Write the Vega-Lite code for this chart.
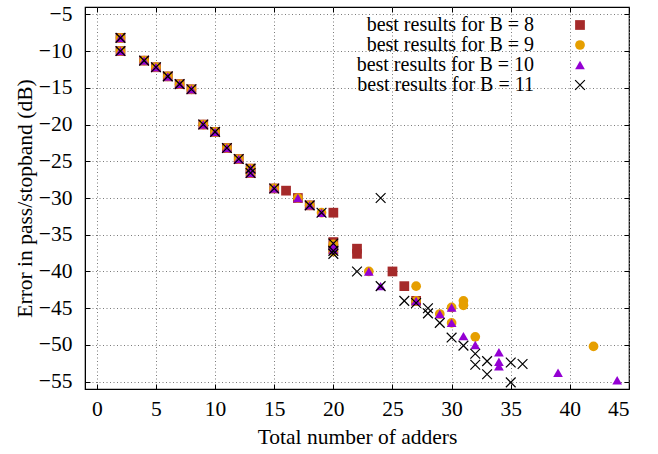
{
  "$schema": "https://vega.github.io/schema/vega-lite/v6.json",
  "width": 544,
  "height": 382,
  "autosize": "none",
  "padding": {"left": 85, "top": 7, "right": 29, "bottom": 65},
  "background": "white",
  "config": {
    "view": {"stroke": "black", "strokeWidth": 1.2},
    "font": "Liberation Serif",
    "axis": {
      "labelFont": "Liberation Serif",
      "titleFont": "Liberation Serif",
      "labelFontSize": 21.5,
      "titleFontSize": 21.5,
      "titleFontWeight": "normal",
      "labelColor": "black",
      "titleColor": "black",
      "domainColor": "black",
      "tickColor": "black",
      "gridColor": "#7a7a7a",
      "gridDash": [1, 2.5],
      "gridWidth": 1
    },
    "legend": {
      "labelFont": "Liberation Serif",
      "labelFontSize": 20,
      "labelColor": "black",
      "labelLimit": 400
    }
  },
  "data": {
    "values": [
      {"x": 2, "y": -8.2, "s": "best results for B = 8"},
      {"x": 2, "y": -10, "s": "best results for B = 8"},
      {"x": 4, "y": -11.3, "s": "best results for B = 8"},
      {"x": 5, "y": -12.2, "s": "best results for B = 8"},
      {"x": 6, "y": -13.45, "s": "best results for B = 8"},
      {"x": 7, "y": -14.5, "s": "best results for B = 8"},
      {"x": 8, "y": -15.2, "s": "best results for B = 8"},
      {"x": 9, "y": -20, "s": "best results for B = 8"},
      {"x": 10, "y": -21, "s": "best results for B = 8"},
      {"x": 11, "y": -23.2, "s": "best results for B = 8"},
      {"x": 12, "y": -24.7, "s": "best results for B = 8"},
      {"x": 13, "y": -26, "s": "best results for B = 8"},
      {"x": 13, "y": -26.6, "s": "best results for B = 8"},
      {"x": 15, "y": -28.7, "s": "best results for B = 8"},
      {"x": 16, "y": -29, "s": "best results for B = 8"},
      {"x": 17, "y": -30, "s": "best results for B = 8"},
      {"x": 18, "y": -31, "s": "best results for B = 8"},
      {"x": 20, "y": -32, "s": "best results for B = 8"},
      {"x": 20, "y": -36, "s": "best results for B = 8"},
      {"x": 20, "y": -37, "s": "best results for B = 8"},
      {"x": 22, "y": -36.9, "s": "best results for B = 8"},
      {"x": 22, "y": -37.6, "s": "best results for B = 8"},
      {"x": 25, "y": -40, "s": "best results for B = 8"},
      {"x": 26, "y": -42, "s": "best results for B = 8"},
      {"x": 27, "y": -44, "s": "best results for B = 8"},

      {"x": 2, "y": -8.2, "s": "best results for B = 9"},
      {"x": 2, "y": -10, "s": "best results for B = 9"},
      {"x": 4, "y": -11.3, "s": "best results for B = 9"},
      {"x": 5, "y": -12.2, "s": "best results for B = 9"},
      {"x": 6, "y": -13.45, "s": "best results for B = 9"},
      {"x": 7, "y": -14.5, "s": "best results for B = 9"},
      {"x": 8, "y": -15.2, "s": "best results for B = 9"},
      {"x": 9, "y": -20, "s": "best results for B = 9"},
      {"x": 10, "y": -21, "s": "best results for B = 9"},
      {"x": 11, "y": -23.2, "s": "best results for B = 9"},
      {"x": 12, "y": -24.7, "s": "best results for B = 9"},
      {"x": 13, "y": -26, "s": "best results for B = 9"},
      {"x": 13, "y": -26.6, "s": "best results for B = 9"},
      {"x": 15, "y": -28.7, "s": "best results for B = 9"},
      {"x": 17, "y": -30, "s": "best results for B = 9"},
      {"x": 18, "y": -31, "s": "best results for B = 9"},
      {"x": 19, "y": -32, "s": "best results for B = 9"},
      {"x": 20, "y": -36.3, "s": "best results for B = 9"},
      {"x": 20, "y": -37.3, "s": "best results for B = 9"},
      {"x": 23, "y": -40, "s": "best results for B = 9"},
      {"x": 27, "y": -42, "s": "best results for B = 9"},
      {"x": 27, "y": -44, "s": "best results for B = 9"},
      {"x": 29, "y": -45.8, "s": "best results for B = 9"},
      {"x": 30, "y": -44.9, "s": "best results for B = 9"},
      {"x": 30, "y": -47, "s": "best results for B = 9"},
      {"x": 31, "y": -44.0, "s": "best results for B = 9"},
      {"x": 31, "y": -44.6, "s": "best results for B = 9"},
      {"x": 32, "y": -48.9, "s": "best results for B = 9"},
      {"x": 42, "y": -50.2, "s": "best results for B = 9"},

      {"x": 2, "y": -8.2, "s": "best results for B = 10"},
      {"x": 2, "y": -10, "s": "best results for B = 10"},
      {"x": 4, "y": -11.3, "s": "best results for B = 10"},
      {"x": 5, "y": -12.2, "s": "best results for B = 10"},
      {"x": 6, "y": -13.45, "s": "best results for B = 10"},
      {"x": 7, "y": -14.5, "s": "best results for B = 10"},
      {"x": 8, "y": -15.2, "s": "best results for B = 10"},
      {"x": 9, "y": -20, "s": "best results for B = 10"},
      {"x": 10, "y": -21, "s": "best results for B = 10"},
      {"x": 11, "y": -23.2, "s": "best results for B = 10"},
      {"x": 12, "y": -24.7, "s": "best results for B = 10"},
      {"x": 13, "y": -26, "s": "best results for B = 10"},
      {"x": 13, "y": -26.6, "s": "best results for B = 10"},
      {"x": 15, "y": -28.7, "s": "best results for B = 10"},
      {"x": 17, "y": -30, "s": "best results for B = 10"},
      {"x": 18, "y": -31, "s": "best results for B = 10"},
      {"x": 19, "y": -32, "s": "best results for B = 10"},
      {"x": 20, "y": -36.5, "s": "best results for B = 10"},
      {"x": 20, "y": -37, "s": "best results for B = 10"},
      {"x": 23, "y": -40, "s": "best results for B = 10"},
      {"x": 24, "y": -42, "s": "best results for B = 10"},
      {"x": 27, "y": -44, "s": "best results for B = 10"},
      {"x": 29, "y": -45.8, "s": "best results for B = 10"},
      {"x": 30, "y": -44.9, "s": "best results for B = 10"},
      {"x": 30, "y": -47, "s": "best results for B = 10"},
      {"x": 31, "y": -48.8, "s": "best results for B = 10"},
      {"x": 32, "y": -50, "s": "best results for B = 10"},
      {"x": 34, "y": -51, "s": "best results for B = 10"},
      {"x": 34, "y": -52.3, "s": "best results for B = 10"},
      {"x": 34, "y": -52.9, "s": "best results for B = 10"},
      {"x": 39, "y": -53.8, "s": "best results for B = 10"},
      {"x": 44, "y": -54.8, "s": "best results for B = 10"},

      {"x": 2, "y": -8.2, "s": "best results for B = 11"},
      {"x": 2, "y": -10, "s": "best results for B = 11"},
      {"x": 4, "y": -11.3, "s": "best results for B = 11"},
      {"x": 5, "y": -12.2, "s": "best results for B = 11"},
      {"x": 6, "y": -13.45, "s": "best results for B = 11"},
      {"x": 7, "y": -14.5, "s": "best results for B = 11"},
      {"x": 8, "y": -15.2, "s": "best results for B = 11"},
      {"x": 9, "y": -20, "s": "best results for B = 11"},
      {"x": 10, "y": -21, "s": "best results for B = 11"},
      {"x": 11, "y": -23.2, "s": "best results for B = 11"},
      {"x": 12, "y": -24.7, "s": "best results for B = 11"},
      {"x": 13, "y": -26, "s": "best results for B = 11"},
      {"x": 13, "y": -26.6, "s": "best results for B = 11"},
      {"x": 15, "y": -28.7, "s": "best results for B = 11"},
      {"x": 18, "y": -31, "s": "best results for B = 11"},
      {"x": 19, "y": -32, "s": "best results for B = 11"},
      {"x": 20, "y": -36.2, "s": "best results for B = 11"},
      {"x": 20, "y": -37.2, "s": "best results for B = 11"},
      {"x": 20, "y": -37.6, "s": "best results for B = 11"},
      {"x": 22, "y": -40, "s": "best results for B = 11"},
      {"x": 24, "y": -30, "s": "best results for B = 11"},
      {"x": 24, "y": -42, "s": "best results for B = 11"},
      {"x": 26, "y": -44, "s": "best results for B = 11"},
      {"x": 27, "y": -44.3, "s": "best results for B = 11"},
      {"x": 28, "y": -45, "s": "best results for B = 11"},
      {"x": 28, "y": -45.7, "s": "best results for B = 11"},
      {"x": 29, "y": -47, "s": "best results for B = 11"},
      {"x": 30, "y": -49, "s": "best results for B = 11"},
      {"x": 31, "y": -50.1, "s": "best results for B = 11"},
      {"x": 32, "y": -51.2, "s": "best results for B = 11"},
      {"x": 32, "y": -52.7, "s": "best results for B = 11"},
      {"x": 33, "y": -52.2, "s": "best results for B = 11"},
      {"x": 33, "y": -54, "s": "best results for B = 11"},
      {"x": 35, "y": -52.4, "s": "best results for B = 11"},
      {"x": 35, "y": -55.1, "s": "best results for B = 11"},
      {"x": 36, "y": -52.6, "s": "best results for B = 11"}
    ]
  },
  "layer": [
    {
      "mark": {"type": "point", "filled": true, "strokeWidth": 1.2, "opacity": 1},
      "encoding": {
        "x": {
          "field": "x", "type": "quantitative",
          "scale": {"domain": [-1, 45], "nice": false, "zero": false},
          "axis": {"orient": "bottom", "values": [0,5,10,15,20,25,30,35,40,45], "title": "Total number of adders",
                   "grid": true, "tickSize": -5, "labelPadding": 14, "titlePadding": 7}
        },
        "y": {
          "field": "y", "type": "quantitative",
          "scale": {"domain": [-56, -4], "nice": false, "zero": false},
          "axis": {"orient": "left", "values": [-5,-10,-15,-20,-25,-30,-35,-40,-45,-50,-55], "title": "Error in pass/stopband (dB)",
                   "grid": true, "tickSize": -5, "labelPadding": 18, "titlePadding": 2}
        },
        "shape": {
          "field": "s", "type": "nominal",
          "sort": ["best results for B = 8", "best results for B = 9", "best results for B = 10", "best results for B = 11"],
          "scale": {"domain": ["best results for B = 8", "best results for B = 9", "best results for B = 10", "best results for B = 11"],
                    "range": ["square", "circle", "triangle-up", "M-1,-1L1,1M-1,1L1,-1"]},
          "legend": {"title": null, "orient": "none", "legendX": 485, "legendY": 8, "labelAlign": "right", "labelOffset": -56,
                     "rowPadding": 0, "symbolStrokeWidth": 1.2, "padding": 0, "labelLimit": 400}
        },
        "size": {
          "field": "s", "type": "nominal",
          "sort": ["best results for B = 8", "best results for B = 9", "best results for B = 10", "best results for B = 11"],
          "scale": {"domain": ["best results for B = 8", "best results for B = 9", "best results for B = 10", "best results for B = 11"],
                    "range": [95, 95, 100, 150]},
          "legend": {"title": null, "orient": "none", "legendX": 485, "legendY": 8, "labelAlign": "right", "labelOffset": -56,
                     "rowPadding": 0, "symbolStrokeWidth": 1.2, "padding": 0, "labelLimit": 400}
        },
        "fill": {
          "field": "s", "type": "nominal",
          "sort": ["best results for B = 8", "best results for B = 9", "best results for B = 10", "best results for B = 11"],
          "scale": {"domain": ["best results for B = 8", "best results for B = 9", "best results for B = 10", "best results for B = 11"],
                    "range": ["#a52a2a", "#e69f00", "#9400d3", "transparent"]},
          "legend": {"title": null, "orient": "none", "legendX": 485, "legendY": 8, "labelAlign": "right", "labelOffset": -56,
                     "rowPadding": 0, "symbolStrokeWidth": 1.2, "padding": 0, "labelLimit": 400}
        },
        "stroke": {
          "field": "s", "type": "nominal",
          "sort": ["best results for B = 8", "best results for B = 9", "best results for B = 10", "best results for B = 11"],
          "scale": {"domain": ["best results for B = 8", "best results for B = 9", "best results for B = 10", "best results for B = 11"],
                    "range": ["transparent", "transparent", "transparent", "black"]},
          "legend": {"title": null, "orient": "none", "legendX": 485, "legendY": 8, "labelAlign": "right", "labelOffset": -56,
                     "rowPadding": 0, "symbolStrokeWidth": 1.2, "padding": 0, "labelLimit": 400}
        }
      }
    },
    {
      "mark": {"type": "point", "opacity": 0},
      "encoding": {
        "x": {
          "field": "x", "type": "quantitative",
          "axis": {"orient": "top", "values": [0,5,10,15,20,25,30,35,40,45], "title": null, "labels": false,
                   "grid": false, "tickSize": -5, "domain": false}
        },
        "y": {
          "field": "y", "type": "quantitative",
          "axis": {"orient": "right", "values": [-5,-10,-15,-20,-25,-30,-35,-40,-45,-50,-55], "title": null, "labels": false,
                   "grid": false, "tickSize": -5, "domain": false}
        }
      }
    }
  ],
  "resolve": {"axis": {"x": "independent", "y": "independent"}}
}
